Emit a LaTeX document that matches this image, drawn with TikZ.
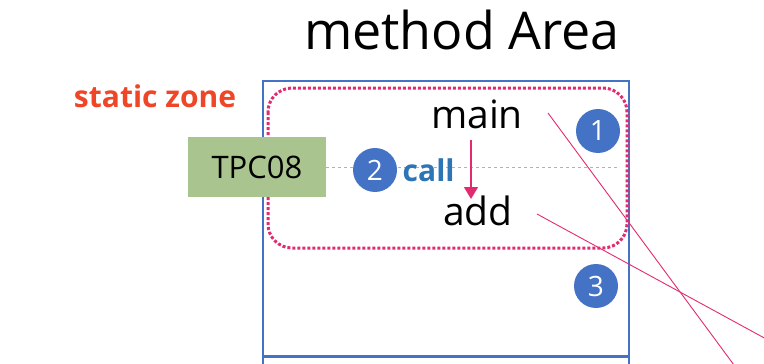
\documentclass[tikz,border=0pt]{standalone}
\usepackage{fontspec}
\setmainfont{Open Sans}
\usetikzlibrary{arrows.meta,positioning}
\definecolor{areaBlue}  {RGB}{68, 114, 196}
\definecolor{callBlue}  {RGB}{46, 117, 182}
\definecolor{zonePink}  {RGB}{226, 42, 110}
\definecolor{zoneRed}   {RGB}{240, 70, 40}
\definecolor{tpcGreen}  {RGB}{169, 196, 142}

\begin{document}
\begin{tikzpicture}[x=1pt,y=-1pt,
          num/.style={circle,fill=areaBlue,text=white,inner sep=0pt,
                      minimum size=44pt,font=\fontsize{28}{28}\selectfont},
          meth/.style={inner sep=1pt,font=\fontsize{39}{39}\selectfont},
          link/.style={zonePink,line width=0.9pt},
        ]
        \useasboundingbox (0,0) rectangle (764,364);
        \clip (0,0) rectangle (764,364);
        % Title
        \node[font=\fontsize{52}{52}\selectfont] (title) at (462,30) {method Area};
        % Area
        \draw[areaBlue,line width=1.6pt] (263,400) -- (263,81) -- (629,81) -- (629,400);
        \draw[areaBlue,line width=3pt] (263,356) -- (629,356);
        \draw[zonePink,line width=3pt,dotted,rounded corners=24pt]
             (268,88) rectangle (627,248);
        \node[zoneRed,font=\bfseries\fontsize{30}{30}\selectfont] (static) at (155,96) {static zone};
        % TPC
        \node[fill=tpcGreen,minimum width=138pt,minimum height=60pt,
              font=\fontsize{31}{31}\selectfont] (tpc) at (257,167) {TPC08};
        \draw[gray!60,dashed,line width=0.4pt] (tpc.east) -- (617,167);
        % Methods
        \node[meth] (main) at (477,114) {main};
        \node[meth] (add) at (478,211) {add};
        \draw[zonePink,line width=1.5pt,-{Triangle[length=12pt,width=14pt]}]
             (471,140) -- (471,199);
        \node[num] (n2) at (375,170) {2};
        \node[callBlue,font=\bfseries\fontsize{30}{30}\selectfont,right=2pt of n2] (call) {call};
        \node[num] (n1) at (598,131) {1};
        \node[num] (n3) at (596,286) {3};
        % Links out
        \coordinate (o1) at (748,384);
        \coordinate (o2) at (790,352);
        \draw[link] (548,113) -- (o1);
        \draw[link] (537,214) -- (o2);
\end{tikzpicture}
\end{document}
